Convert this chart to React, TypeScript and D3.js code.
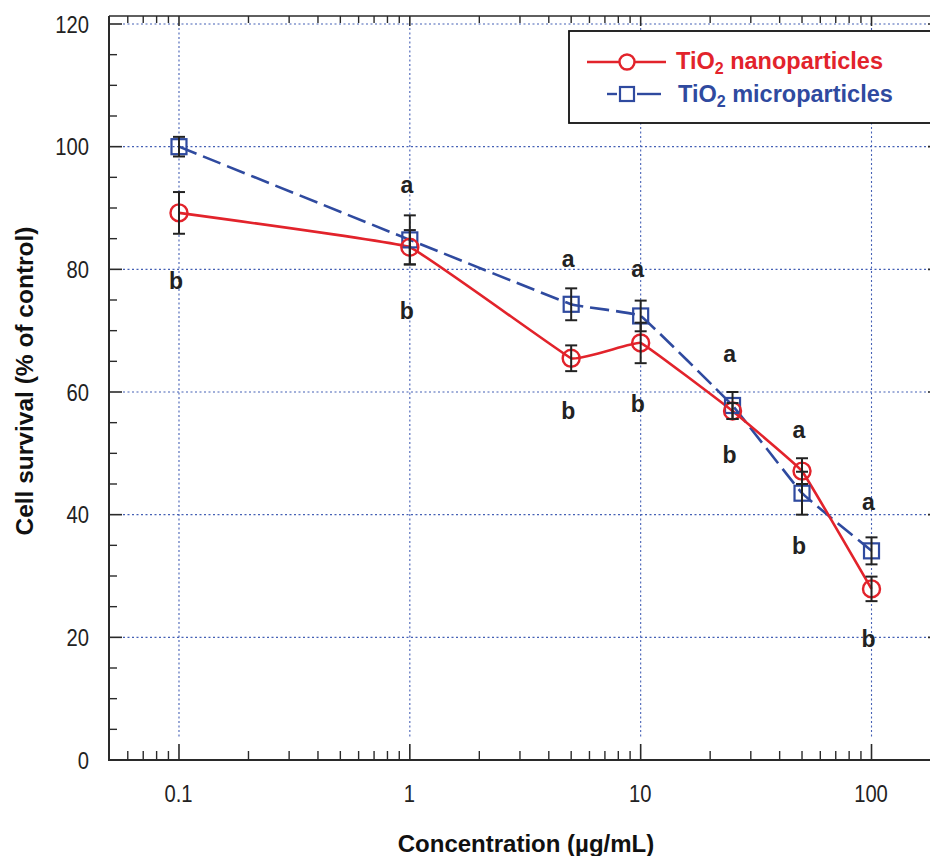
import * as d3 from 'd3';
import React from 'react';

const width = 930;
const height = 856;
const margin = { top: 16, right: -11, bottom: 96, left: 109 };

const concentrations = [0.1, 1, 5, 10, 25, 50, 100];
const nanoMean = [89.2, 83.6, 65.5, 68.0, 56.9, 47.1, 27.9];
const nanoErr = [3.4, 2.8, 2.1, 3.3, 1.3, 2.1, 2.0];
const microMean = [100.0, 84.8, 74.3, 72.4, 57.8, 43.5, 34.1];
const microErr = [1.6, 4.0, 2.6, 2.5, 2.2, 3.5, 2.2];
// significance letters, placed at these survival values
const letterA = [null, 92.4, 80.4, 78.8, 64.9, 52.5, 40.8];
const letterB = [76.8, 71.9, 55.6, 56.7, 48.4, 33.6, 18.4];

const xTicks = [0.1, 1, 10, 100];
const xTickLabels = ['0.1', '1', '10', '100'];
const yTicks = [0, 20, 40, 60, 80, 100, 120];

const red = '#e2232b';
const blue = '#2f4a9f';
const gridColor = '#4560b5';
const axisColor = '#2a2a2a';
const font = 'Arial, "Liberation Sans", sans-serif';

const x = d3.scaleLog().domain([0.05, 200]).range([margin.left + 0.5, width - margin.right]);
const y = d3.scaleLinear().domain([0, 120]).range([760, 24]);

const minorX: number[] = [];
[0.01, 0.1, 1, 10, 100].forEach(dec => {
  for (let k = 2; k <= 9; k++) {
    const v = dec * k;
    if (v > 0.05 && v < 200) minorX.push(v);
  }
});
const minorY = d3.range(5, 125, 5).filter(v => v % 20 !== 0);

const line = d3
  .line<number>()
  .x((_, i) => x(concentrations[i]))
  .y(d => y(d))
  .curve(d3.curveCardinal.tension(0.8));

export default function App() {
  const x0 = margin.left;
  const x1 = width - margin.right;
  const yTop = margin.top;
  const yBot = y(0);
  return (
    <svg
      width={width}
      height={height}
      style={{ position: 'absolute', left: 0, top: 0, background: '#fff' }}
      fontFamily={font}
    >
      {/* grid */}
      <g stroke={gridColor} strokeWidth={1.1} strokeDasharray="2,2.5">
        {yTicks.filter(t => t > 0).map(t => (
          <line key={'gy' + t} x1={x0 + 14} x2={x1 - 12} y1={y(t)} y2={y(t)} />
        ))}
        {xTicks.map(t => (
          <line key={'gx' + t} x1={x(t)} x2={x(t)} y1={y(120) + 4} y2={yBot - 22} />
        ))}
      </g>

      {/* frame */}
      <g stroke={axisColor} fill="none">
        <line x1={x0} x2={x1} y1={yBot} y2={yBot} strokeWidth={2} />
        <line x1={x0} x2={x0} y1={yTop} y2={yBot + 1} strokeWidth={2} />
        <line x1={x0} x2={x1} y1={yTop} y2={yTop} strokeWidth={1.6} />
        <line x1={x1} x2={x1} y1={yTop} y2={yBot} strokeWidth={1.6} />
        {yTicks.map(t => (
          <g key={'ty' + t}>
            <line x1={x0} x2={x0 + 13} y1={y(t)} y2={y(t)} strokeWidth={1.6} />
            <line x1={x1} x2={x1 - 13} y1={y(t)} y2={y(t)} strokeWidth={1.6} />
          </g>
        ))}
        {minorY.map(t => (
          <g key={'my' + t}>
            <line x1={x0} x2={x0 + 8} y1={y(t)} y2={y(t)} strokeWidth={1.4} />
            <line x1={x1} x2={x1 - 8} y1={y(t)} y2={y(t)} strokeWidth={1.4} />
          </g>
        ))}
        {xTicks.map(t => (
          <g key={'tx' + t}>
            <line x1={x(t)} x2={x(t)} y1={yBot} y2={yBot - 16} strokeWidth={1.6} />
            <line x1={x(t)} x2={x(t)} y1={yTop} y2={yTop + 10} strokeWidth={1.6} />
          </g>
        ))}
        {minorX.map(t => (
          <g key={'mx' + t}>
            <line x1={x(t)} x2={x(t)} y1={yBot} y2={yBot - 9} strokeWidth={1.4} />
            <line x1={x(t)} x2={x(t)} y1={yTop} y2={yTop + 7} strokeWidth={1.4} />
          </g>
        ))}
      </g>

      {/* tick labels (the original face is slightly condensed) */}
      <g fontSize={23.5} fill="#222">
        {yTicks.map(t => (
          <text
            key={'ly' + t}
            transform={`translate(89, ${y(t) + 8.5}) scale(0.86, 1)`}
            textAnchor="end"
          >
            {t}
          </text>
        ))}
        {xTicks.map((t, i) => (
          <text
            key={'lx' + t}
            transform={`translate(${x(t) - 0.5}, 802) scale(0.86, 1)`}
            textAnchor="middle"
          >
            {xTickLabels[i]}
          </text>
        ))}
      </g>

      {/* axis titles */}
      <text x={526} y={852} textAnchor="middle" fontSize={24} fontWeight="bold" fill="#111">
        Concentration (µg/mL)
      </text>
      <text
        transform={`translate(33, 381) rotate(-90)`}
        textAnchor="middle"
        fontSize={24.5}
        fontWeight="bold"
        fill="#111"
      >
        Cell survival (% of control)
      </text>

      {/* series lines */}
      <path d={line(microMean) || ''} fill="none" stroke={blue} strokeWidth={2.6} strokeDasharray="19,7" />
      <path d={line(nanoMean) || ''} fill="none" stroke={red} strokeWidth={2.6} />

      {/* markers */}
      {microMean.map((v, i) => (
        <rect
          key={'sq' + i}
          x={x(concentrations[i]) - 7.5}
          y={y(v) - 7.5}
          width={15}
          height={15}
          fill="none"
          stroke={blue}
          strokeWidth={2.2}
        />
      ))}
      {nanoMean.map((v, i) => (
        <circle key={'ci' + i} cx={x(concentrations[i])} cy={y(v)} r={8.5} fill="none" stroke={red} strokeWidth={2.4} />
      ))}

      {/* error bars */}
      <g stroke="#222" strokeWidth={2}>
        {[
          { mean: microMean, err: microErr, k: 'm' },
          { mean: nanoMean, err: nanoErr, k: 'n' },
        ].map(s =>
          s.mean.map((v, i) => {
            const cx = x(concentrations[i]);
            const hi = y(v + s.err[i]);
            const lo = y(v - s.err[i]);
            return (
              <g key={s.k + i}>
                <line x1={cx} x2={cx} y1={hi} y2={lo} />
                <line x1={cx - 6} x2={cx + 6} y1={hi} y2={hi} />
                <line x1={cx - 6} x2={cx + 6} y1={lo} y2={lo} />
              </g>
            );
          })
        )}
      </g>

      {/* significance letters */}
      <g fontSize={23} fontWeight="bold" fill="#222" textAnchor="middle">
        {letterA.map((v, i) =>
          v === null ? null : (
            <text key={'a' + i} x={x(concentrations[i]) - 3} y={y(v)}>
              a
            </text>
          )
        )}
        {letterB.map((v, i) => (
          <text key={'b' + i} x={x(concentrations[i]) - 3} y={y(v)}>
            b
          </text>
        ))}
      </g>

      {/* legend */}
      <g>
        <rect x={569} y={31} width={362} height={92} fill="#fff" stroke="#111" strokeWidth={1.8} />
        <line x1={587} x2={666} y1={62} y2={62} stroke={red} strokeWidth={2.6} />
        <circle cx={627} cy={62} r={7.5} fill="#fff" stroke={red} strokeWidth={2.4} />
        <text x={676} y={69} fontSize={23.5} fontWeight="bold" fill={red}>
          TiO<tspan fontSize={16} dy={5}>2</tspan>
          <tspan dy={-5}> nanoparticles</tspan>
        </text>
        <line x1={607} x2={617} y1={94} y2={94} stroke={blue} strokeWidth={2.4} />
        <line x1={637} x2={661} y1={94} y2={94} stroke={blue} strokeWidth={2.4} />
        <rect x={620} y={87} width={14} height={14} fill="#fff" stroke={blue} strokeWidth={2.2} />
        <text x={678} y={102} fontSize={23.5} fontWeight="bold" fill={blue}>
          TiO<tspan fontSize={16} dy={5}>2</tspan>
          <tspan dy={-5}> microparticles</tspan>
        </text>
      </g>
    </svg>
  );
}
